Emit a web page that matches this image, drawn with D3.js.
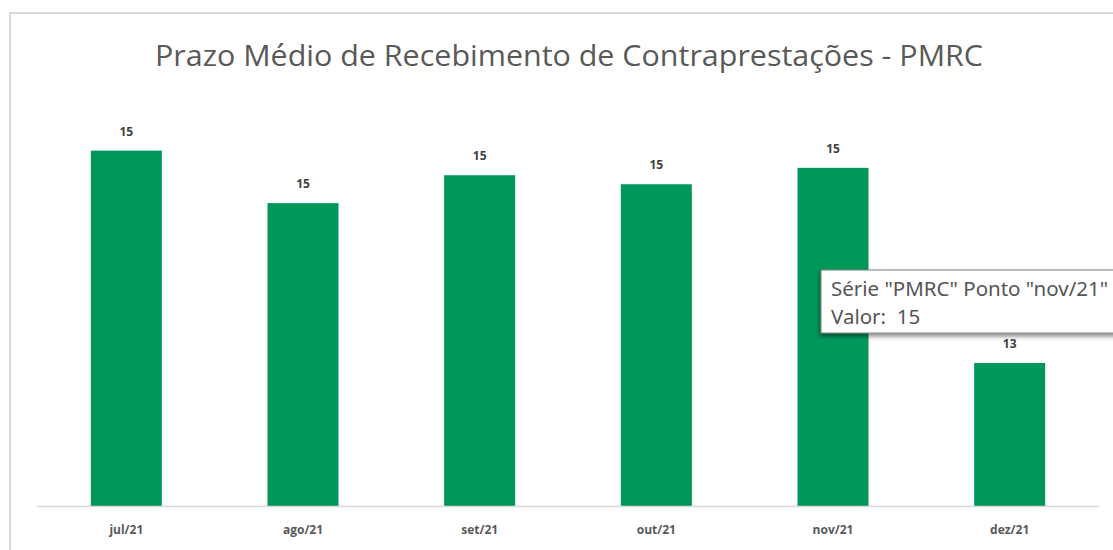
<!DOCTYPE html>
<meta charset="utf-8">
<style>
body { margin: 0; background: #fff; }
svg { display: block; }
.title { fill: #595959; font: 30px "Open Sans", sans-serif; }
.lbl { fill: #404040; font: bold 12px "Open Sans", sans-serif; }
.cat { fill: #595959; font: bold 12px "Open Sans", sans-serif; }
.tip text { fill: #555; font: 20.5px "Noto Sans", sans-serif; white-space: pre; }
</style>
<body>
<script src="https://cdn.jsdelivr.net/npm/d3@7"></script>
<script>

// data
var months = ["jul/21", "ago/21", "set/21", "out/21", "nov/21", "dez/21"];
var pmrc = [15.34, 14.70, 15.04, 14.93, 15.13, 12.75];
var yDomain = [11, 16];

var W = 1113, H = 550;

var svg = d3.select("body").append("svg")
    .attr("width", W)
    .attr("height", H);

// chart frame
svg.append("rect")
    .attr("x", 10).attr("y", 13)
    .attr("width", 1200).attr("height", 600)
    .attr("fill", "#fff")
    .attr("stroke", "#d9d9d9")
    .attr("stroke-width", 2);

svg.append("text")
    .attr("class", "title")
    .attr("x", 569).attr("y", 66)
    .attr("text-anchor", "middle")
    .attr("textLength", 828)
    .attr("lengthAdjust", "spacingAndGlyphs")
    .text("Prazo Médio de Recebimento de Contraprestações - PMRC");

var x = d3.scaleBand()
    .domain(months)
    .range([38, 1098])
    .paddingInner(0.598)
    .paddingOuter(0.299);

var y = d3.scaleLinear()
    .domain(yDomain)
    .range([506.5, 96.5]);

var fmt = d3.format(".0f");

svg.selectAll(".bar")
    .data(pmrc)
  .enter().append("rect")
    .attr("class", "bar")
    .attr("x", function(d, i) { return x(months[i]); })
    .attr("y", function(d) { return y(d); })
    .attr("width", x.bandwidth())
    .attr("height", function(d) { return y(yDomain[0]) - y(d); })
    .attr("fill", "#00985a");

svg.selectAll(".lbl")
    .data(pmrc)
  .enter().append("text")
    .attr("class", "lbl")
    .attr("x", function(d, i) { return x(months[i]) + x.bandwidth() / 2; })
    .attr("y", function(d) { return y(d) - 15; })
    .attr("text-anchor", "middle")
    .text(function(d) { return fmt(d); });

// category axis
var xAxis = d3.axisBottom(x).tickSize(0).tickPadding(19);
var gx = svg.append("g")
    .attr("transform", "translate(0," + y(yDomain[0]) + ")")
    .call(xAxis);
gx.select(".domain").remove();
gx.append("line")
    .attr("x1", 37).attr("x2", 1099)
    .attr("stroke", "#d9d9d9")
    .attr("stroke-width", 1.5);
gx.selectAll(".tick text")
    .attr("class", "cat")
    .attr("fill", null)
    .style("font", null);

// hover tooltip as in the screenshot
var defs = svg.append("defs");
var f = defs.append("filter").attr("id", "sh").attr("x", "-10%").attr("y", "-20%").attr("width", "130%").attr("height", "160%");
f.append("feDropShadow").attr("dx", -1).attr("dy", 3).attr("stdDeviation", 2).attr("flood-color", "#000").attr("flood-opacity", 0.45);

var tip = svg.append("g").attr("class", "tip");
tip.append("rect")
    .attr("x", 821).attr("y", 270)
    .attr("width", 400).attr("height", 63)
    .attr("fill", "#fff")
    .attr("stroke", "#808080")
    .attr("filter", "url(#sh)");
tip.append("text")
    .attr("x", 831).attr("y", 296)
    .text("Série \"PMRC\" Ponto \"" + months[4] + "\"");
tip.append("text")
    .attr("x", 831).attr("y", 324)
    .text("Valor:  " + fmt(pmrc[4]));

</script>
</body>
